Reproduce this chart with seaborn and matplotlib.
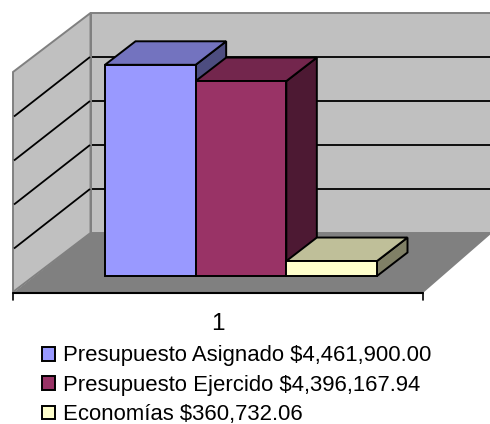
import matplotlib
matplotlib.use("Agg")
import matplotlib.pyplot as plt
import pandas as pd
import seaborn as sns
from matplotlib.patches import Polygon

# ---- data (bar heights in millions)
category = ["1", "1", "1"]
series = ["Presupuesto Asignado $4,461,900.00",
          "Presupuesto Ejercido $4,396,167.94",
          "Economías $360,732.06"]
values = [4.80, 4.43, 0.34]
grid_values = [1, 2, 3, 4]

front_colors = ["#9999FF", "#993366", "#FFFFCC"]
top_colors = ["#7373BF", "#73264D", "#BFBF99"]
side_colors = ["#4D4D80", "#4D1933", "#808066"]

sns.set_theme(style="white")
plt.rcParams["font.family"] = ["Liberation Sans", "DejaVu Sans"]

W, H = 490, 424
fig = plt.figure(figsize=(W / 100, H / 100), dpi=100, facecolor="white")
ax = fig.add_axes([0, 0, 1, 1])

# pixel layout -> data scale
X0, XU, Y0, YU = 241.0, 272.0, 276.0, 44.0
def X(p): return (p - X0) / XU
def Y(p): return (Y0 - p) / YU
def P(pts): return [(X(a), Y(b)) for a, b in pts]

LW = 1.4
df = pd.DataFrame({"cat": category, "serie": series, "val": values})
sns.barplot(data=df, x="cat", y="val", hue="serie", hue_order=series,
            palette=front_colors, saturation=1, width=1, gap=0,
            edgecolor="black", linewidth=LW, ax=ax)

ax.set_xlim(X(0), X(W))
ax.set_ylim(Y(H), Y(0))
ax.set_axis_off()

# walls and floor
WALL = "#C0C0C0"; EDGE = "#808080"
ax.add_patch(Polygon(P([(90.5, 13), (495, 13), (495, 233), (90.5, 233)]),
                     fc=WALL, ec=EDGE, lw=1.4, zorder=1))
ax.add_patch(Polygon(P([(13, 72), (90.5, 13), (90.5, 233), (13, 292)]),
                     fc=WALL, ec=EDGE, lw=1.4, zorder=1))
ax.add_patch(Polygon(P([(13, 293), (423, 293), (492, 233), (90.5, 233)]),
                     fc=EDGE, ec="none", zorder=3))
base = Y(233)
ax.hlines([g + base for g in grid_values], X(91.5), X(W), color="black", lw=1.3, zorder=2)
for g in grid_values:
    ax.plot([X(14), X(90)], [g + base - 59.5 / YU, g + base],
            color="black", lw=1.3, zorder=2, solid_capstyle="butt")
ax.plot([X(13), X(423)], [Y(293), Y(293)], color="black", lw=1.5, zorder=4)
for px in (13, 423):
    ax.plot([X(px), X(px)], [Y(293), Y(299.5)], color="black", lw=1.2, zorder=4)

# 3-D faces of the bars, computed from each bar's own rectangle
DX, DY = 30.5 / XU, 23.5 / YU
z = 6
for cont, tc, sc in zip(ax.containers, top_colors, side_colors):
    r = cont[0]
    x0, x1, h = r.get_x(), r.get_x() + r.get_width(), r.get_height()
    ax.add_patch(Polygon([(x1, 0), (x1 + DX, DY), (x1 + DX, h + DY), (x1, h)],
                         fc=sc, ec="black", lw=LW, zorder=z))
    ax.add_patch(Polygon([(x0, h), (x0 + DX, h + DY), (x1 + DX, h + DY), (x1, h)],
                         fc=tc, ec="black", lw=LW, zorder=z))
    r.set_zorder(z + 1)
    z += 2

# category label
ax.text(X(218), Y(324), "1", ha="center", va="center", fontsize=17.5, color="black")

# legend
leg = ax.legend(loc="upper left", bbox_to_anchor=(42 / W, 1 - 345.5 / H),
                bbox_transform=fig.transFigure, frameon=False, fontsize=15.9,
                borderpad=0, borderaxespad=0, handlelength=0.59, handleheight=0.58,
                handletextpad=0.36, labelspacing=0.38, labelcolor="black")
for h in leg.get_patches():
    h.set_edgecolor("black")
    h.set_linewidth(LW)

fig.savefig("out.png", dpi=100)
